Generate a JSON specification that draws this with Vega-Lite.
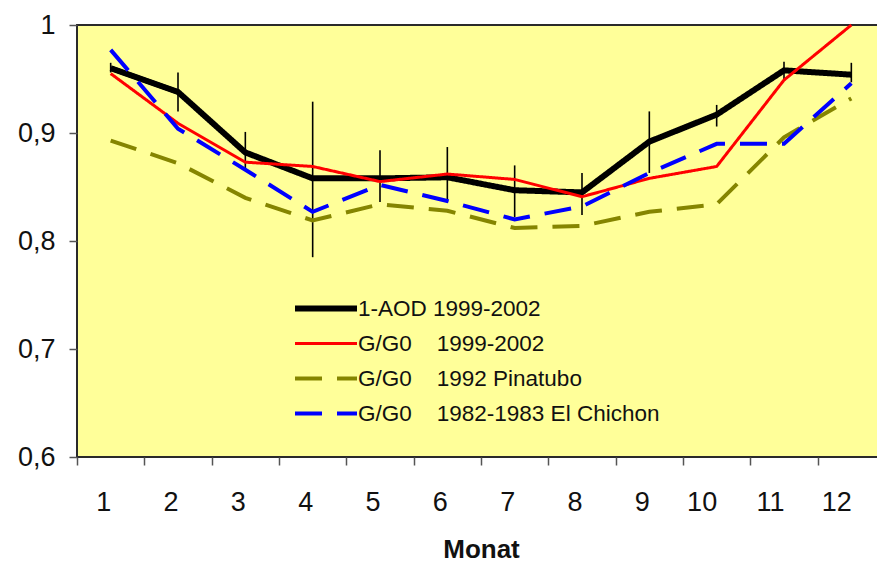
{
  "$schema": "https://vega.github.io/schema/vega-lite/v6.json",
  "autosize": "none",
  "padding": {"left": 77, "top": 25, "right": 0, "bottom": 105},
  "width": 808,
  "height": 432,
  "background": "white",
  "config": {
    "font": "Liberation Sans",
    "view": {"fill": "#FFFF99", "stroke": "#2a2a2a", "strokeWidth": 2},
    "axis": {"grid": false, "domain": false, "tickColor": "#555", "tickWidth": 1.5, "tickSize": 8, "labelColor": "#111", "labelFont": "Liberation Sans", "labelFontSize": 27, "titleFont": "Liberation Sans"}
  },
  "datasets": {
    "lines": [
      {"series": "1-AOD 1999-2002", "month": "1", "value": 0.960},
      {"series": "1-AOD 1999-2002", "month": "2", "value": 0.938},
      {"series": "1-AOD 1999-2002", "month": "3", "value": 0.882},
      {"series": "1-AOD 1999-2002", "month": "4", "value": 0.858},
      {"series": "1-AOD 1999-2002", "month": "5", "value": 0.858},
      {"series": "1-AOD 1999-2002", "month": "6", "value": 0.859},
      {"series": "1-AOD 1999-2002", "month": "7", "value": 0.847},
      {"series": "1-AOD 1999-2002", "month": "8", "value": 0.845},
      {"series": "1-AOD 1999-2002", "month": "9", "value": 0.892},
      {"series": "1-AOD 1999-2002", "month": "10", "value": 0.917},
      {"series": "1-AOD 1999-2002", "month": "11", "value": 0.958},
      {"series": "1-AOD 1999-2002", "month": "12", "value": 0.954},
      {"series": "G/G0     1999-2002", "month": "1", "value": 0.955},
      {"series": "G/G0     1999-2002", "month": "2", "value": 0.909},
      {"series": "G/G0     1999-2002", "month": "3", "value": 0.873},
      {"series": "G/G0     1999-2002", "month": "4", "value": 0.869},
      {"series": "G/G0     1999-2002", "month": "5", "value": 0.855},
      {"series": "G/G0     1999-2002", "month": "6", "value": 0.862},
      {"series": "G/G0     1999-2002", "month": "7", "value": 0.857},
      {"series": "G/G0     1999-2002", "month": "8", "value": 0.841},
      {"series": "G/G0     1999-2002", "month": "9", "value": 0.858},
      {"series": "G/G0     1999-2002", "month": "10", "value": 0.869},
      {"series": "G/G0     1999-2002", "month": "11", "value": 0.949},
      {"series": "G/G0     1999-2002", "month": "12", "value": 1.0},
      {"series": "G/G0     1992 Pinatubo", "month": "1", "value": 0.893},
      {"series": "G/G0     1992 Pinatubo", "month": "2", "value": 0.872},
      {"series": "G/G0     1992 Pinatubo", "month": "3", "value": 0.840},
      {"series": "G/G0     1992 Pinatubo", "month": "4", "value": 0.819},
      {"series": "G/G0     1992 Pinatubo", "month": "5", "value": 0.834},
      {"series": "G/G0     1992 Pinatubo", "month": "6", "value": 0.828},
      {"series": "G/G0     1992 Pinatubo", "month": "7", "value": 0.812},
      {"series": "G/G0     1992 Pinatubo", "month": "8", "value": 0.814},
      {"series": "G/G0     1992 Pinatubo", "month": "9", "value": 0.827},
      {"series": "G/G0     1992 Pinatubo", "month": "10", "value": 0.834},
      {"series": "G/G0     1992 Pinatubo", "month": "11", "value": 0.896},
      {"series": "G/G0     1992 Pinatubo", "month": "12", "value": 0.932},
      {"series": "G/G0     1982-1983 El Chichon", "month": "1", "value": 0.977},
      {"series": "G/G0     1982-1983 El Chichon", "month": "2", "value": 0.904},
      {"series": "G/G0     1982-1983 El Chichon", "month": "3", "value": 0.866},
      {"series": "G/G0     1982-1983 El Chichon", "month": "4", "value": 0.827},
      {"series": "G/G0     1982-1983 El Chichon", "month": "5", "value": 0.852},
      {"series": "G/G0     1982-1983 El Chichon", "month": "6", "value": 0.837},
      {"series": "G/G0     1982-1983 El Chichon", "month": "7", "value": 0.820},
      {"series": "G/G0     1982-1983 El Chichon", "month": "8", "value": 0.832},
      {"series": "G/G0     1982-1983 El Chichon", "month": "9", "value": 0.863},
      {"series": "G/G0     1982-1983 El Chichon", "month": "10", "value": 0.890},
      {"series": "G/G0     1982-1983 El Chichon", "month": "11", "value": 0.890},
      {"series": "G/G0     1982-1983 El Chichon", "month": "12", "value": 0.946}
    ],
    "errors": [
      {"month": "1", "low": 0.956, "high": 0.965},
      {"month": "2", "low": 0.920, "high": 0.956},
      {"month": "3", "low": 0.866, "high": 0.901},
      {"month": "4", "low": 0.785, "high": 0.929},
      {"month": "5", "low": 0.836, "high": 0.884},
      {"month": "6", "low": 0.836, "high": 0.887},
      {"month": "7", "low": 0.822, "high": 0.870},
      {"month": "8", "low": 0.824, "high": 0.863},
      {"month": "9", "low": 0.863, "high": 0.920},
      {"month": "10", "low": 0.906, "high": 0.926},
      {"month": "11", "low": 0.949, "high": 0.966},
      {"month": "12", "low": 0.947, "high": 0.965}
    ]
  },
  "layer": [
    {
      "data": {"name": "errors"},
      "mark": {"type": "rule", "color": "#000", "strokeWidth": 1.6},
      "encoding": {
        "x": {"field": "month", "type": "ordinal", "sort": null},
        "y": {"field": "low", "type": "quantitative"},
        "y2": {"field": "high"}
      }
    },
    {
      "data": {"name": "lines"},
      "mark": {"type": "line", "strokeCap": "butt", "strokeJoin": "miter"},
      "encoding": {
        "x": {
          "field": "month", "type": "ordinal", "sort": null,
          "scale": {"paddingInner": 0, "paddingOuter": 0},
          "axis": {"title": "Monat", "labelAngle": 0, "tickBand": "extent", "labelPadding": 37, "titleFontSize": 26, "titleFontWeight": "bold", "titleColor": "#111", "titlePadding": 21}
        },
        "y": {
          "field": "value", "type": "quantitative",
          "scale": {"domain": [0.6, 1.0], "nice": false, "zero": false},
          "axis": {"title": null, "values": [0.6, 0.7, 0.8, 0.9, 1.0], "labelPadding": 14, "labelExpr": "replace(format(datum.value, '.1~f'), '.', ',')"}
        },
        "color": {
          "field": "series", "type": "nominal",
          "scale": {"domain": ["1-AOD 1999-2002", "G/G0     1999-2002", "G/G0     1992 Pinatubo", "G/G0     1982-1983 El Chichon"], "range": ["#000000", "#FF0000", "#858500", "#0000FF"]},
          "legend": {
            "title": null, "orient": "none", "legendX": 215, "legendY": 267,
            "symbolType": "stroke", "symbolSize": 3844, "labelFontSize": 22.5, "labelColor": "#111",
            "labelFont": "Liberation Sans", "labelOffset": -2, "rowPadding": 2, "clipHeight": 33, "padding": 0, "labelLimit": 0,
            "labelExpr": "replace(datum.label, '     ', '\u00a0\u00a0\u00a0\u00a0')"
          }
        },
        "strokeDash": {
          "field": "series", "type": "nominal",
          "scale": {"domain": ["1-AOD 1999-2002", "G/G0     1999-2002", "G/G0     1992 Pinatubo", "G/G0     1982-1983 El Chichon"], "range": [[1, 0], [1, 0], [27, 15], [27, 15]]}
        },
        "strokeWidth": {
          "field": "series", "type": "nominal",
          "scale": {"type": "ordinal", "domain": ["1-AOD 1999-2002", "G/G0     1999-2002", "G/G0     1992 Pinatubo", "G/G0     1982-1983 El Chichon"], "range": [6, 3, 4, 4]}
        }
      }
    }
  ]
}
